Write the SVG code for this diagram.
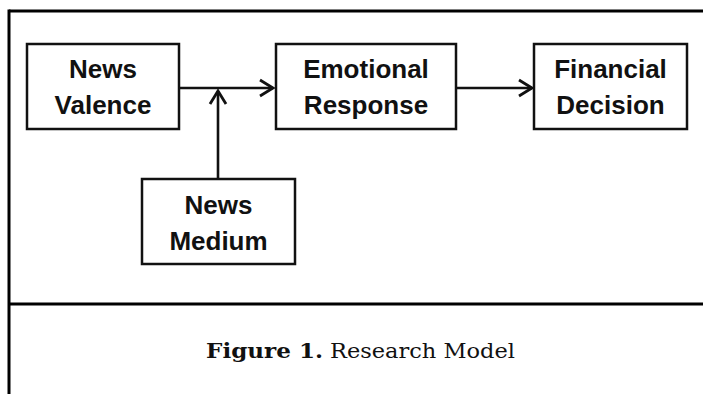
<svg xmlns="http://www.w3.org/2000/svg" width="703" height="394" viewBox="0 0 703 394">
<style>
.box{fill:#fff;stroke:#111;stroke-width:2.5}
.lbl{font-family:"Liberation Sans",Arial,sans-serif;font-weight:bold;font-size:26px;fill:#111;text-anchor:middle}
.frame{stroke:#000;stroke-width:3;fill:none}
.conn{stroke:#111;stroke-width:2.6;fill:none}
.cap{font-family:"DejaVu Serif","Liberation Serif",serif;font-size:21px;fill:#111}
</style>
<defs>
<marker id="arr" markerUnits="userSpaceOnUse" markerWidth="20" markerHeight="20" viewBox="-16 -10 20 20" refX="0" refY="0" orient="auto">
<path d="M -13 -8 L 0 0 L -13 8" fill="none" stroke="#111" stroke-width="2.8" stroke-linejoin="miter"/>
</marker>
</defs>
<g id="frame">
<line class="frame" x1="9" y1="11" x2="703" y2="11"/>
<line class="frame" x1="9" y1="9.5" x2="9" y2="394"/>
<line class="frame" x1="9" y1="304" x2="703" y2="304"/>
</g>
<g id="connectors">
<line class="conn" x1="179" y1="88" x2="273" y2="88" marker-end="url(#arr)"/>
<line class="conn" x1="218" y1="179" x2="218" y2="91" marker-end="url(#arr)"/>
<line class="conn" x1="456" y1="88" x2="532" y2="88" marker-end="url(#arr)"/>
</g>
<g id="news-valence">
<rect class="box" x="27" y="44" width="152" height="85"/>
<text class="lbl" x="103" y="78">News</text>
<text class="lbl" x="103" y="114">Valence</text>
</g>
<g id="emotional-response">
<rect class="box" x="276" y="44" width="180" height="85"/>
<text class="lbl" x="366" y="78">Emotional</text>
<text class="lbl" x="366" y="114">Response</text>
</g>
<g id="financial-decision">
<rect class="box" x="534" y="44" width="153" height="85"/>
<text class="lbl" x="610.5" y="78">Financial</text>
<text class="lbl" x="610.5" y="114">Decision</text>
</g>
<g id="news-medium">
<rect class="box" x="142" y="179" width="153" height="85"/>
<text class="lbl" x="218.5" y="214">News</text>
<text class="lbl" x="218.5" y="250">Medium</text>
</g>
<g id="caption">
<text class="cap" x="206" y="358" font-weight="bold" textLength="117" lengthAdjust="spacingAndGlyphs">Figure 1.</text>
<text class="cap" x="330" y="358" textLength="185" lengthAdjust="spacingAndGlyphs">Research Model</text>
</g>
</svg>
